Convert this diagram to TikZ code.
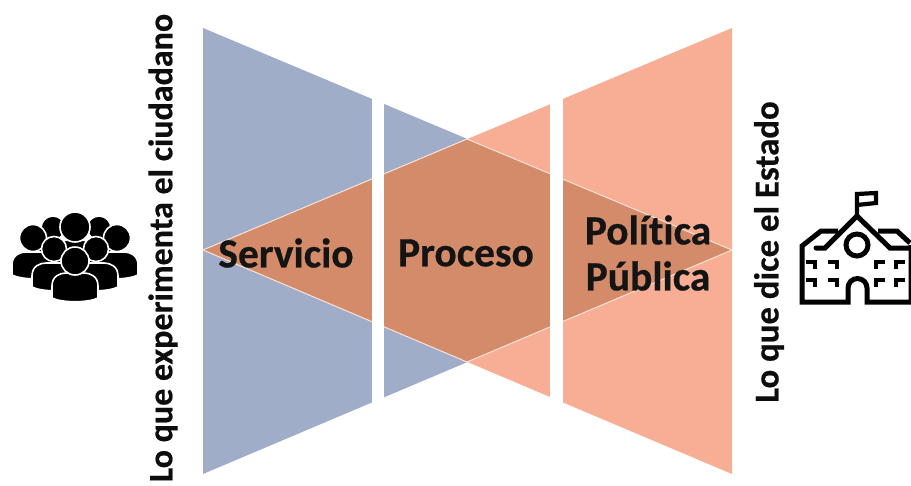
\documentclass[tikz,border=0pt]{standalone}
\usepackage{fontspec}
\setmainfont[Ligatures=NoCommon,BoldFeatures={FakeBold=0.5}]{Carlito}
\definecolor{blueT}{HTML}{A0ADC9}
\definecolor{orangeT}{HTML}{F7AE94}
\definecolor{overlapT}{HTML}{D38B6A}
\definecolor{edgeT}{HTML}{F6E3D8}
\tikzset{
  big/.style={font=\bfseries\fontsize{41.5}{46}\selectfont, text=black!92, align=center, inner sep=0pt},
  side/.style={font=\bfseries\fontsize{34}{38}\selectfont, text=black!95, rotate=90, inner sep=0pt},
  icon/.style={line width=5pt, draw=black, line join=miter},
  win/.style={line width=4.2pt, draw=black}
}
\newcommand{\onePerson}[6]{% cx, head cy, r, body top, body bottom, half width
  \fill[black, draw=white, line width=1.6pt] (#1-#6,#5-5) -- (#1-#6,#4+13)
    .. controls (#1-#6,#4+3) and (#1-#6+8,#4) .. (#1-#6+14,#4)
    -- (#1+#6-14,#4) .. controls (#1+#6-8,#4) and (#1+#6,#4+3) .. (#1+#6,#4+13)
    -- (#1+#6,#5-5) .. controls (#1+#6-10,#5) and (#1-#6+10,#5) .. (#1-#6,#5-5) -- cycle;
  \fill[black, draw=white, line width=1.6pt] (#1,#2) circle[radius=#3];
}
\begin{document}
\begin{tikzpicture}[x=1pt,y=-1pt]
\useasboundingbox (0,0) rectangle (911,485);
\clip (0,0) rectangle (911,485);
% triangles
\fill[blueT] (203,28) -- (732,250) -- (203,474) -- cycle;
\fill[orangeT] (732,28) -- (203,250) -- (732,474) -- cycle;
\fill[overlapT] (203,250) -- (467,139) -- (732,250) -- (467,362) -- cycle;
\draw[edgeT, line width=1pt] (203,250) -- (467,139) -- (732,250) -- (467,362) -- cycle;
% gaps
\fill[white] (372,20) rectangle (384,480);
\fill[white] (550,20) rectangle (563,480);
% labels
\node[big] (servicio) at (286,253) {Servicio};
\node[big] (proceso) at (466,253) {Proceso};
\node[big] (politica) at (648,253) {Política\\Pública};
\node[side, anchor=center] (ciudadano) at (163,248) {Lo que experimenta el ciudadano};
\node[side, anchor=center] (estado) at (769,252) {\fontsize{34.8}{38}\selectfont Lo que dice el Estado};
% people icon
\onePerson{53}{228}{12}{240}{275}{22}
\onePerson{99}{228}{12}{240}{275}{22}
\onePerson{75}{227}{15}{240}{270}{20}
\onePerson{33}{238}{13.5}{252}{280}{21}
\onePerson{117}{238}{13.5}{252}{280}{21}
\onePerson{54}{249}{12.5}{263}{292}{22}
\onePerson{96}{249}{12.5}{263}{292}{22}
\onePerson{75}{261}{14}{273}{303}{23}
% school icon
\draw[icon] (911,245) -- (911,302) -- (867,302) -- (867,288)
  arc[start angle=0,end angle=-180,radius=9.5] -- (848,302) -- (802,302) -- (802,246) -- (821,231) -- (838,231);
\draw[icon, line cap=round] (816,248) -- (825,248) -- (857,216) -- (890,248) -- (910,248);
\draw[icon] (878,231) -- (897,231) -- (910,243);
\draw[icon] (857,245) circle[radius=11];
\draw[icon, line width=4.2pt] (857,216) -- (857,194) -- (876,193) -- (876,203) -- (857,205);
\foreach \x/\y in {811/262, 833/262, 811/280, 833/280}{
  \draw[win] (\x-5,\y) -- (\x+4,\y) -- (\x+4,\y+7);
}
\foreach \x/\y in {880/262, 900/262, 880/280, 900/280}{
  \draw[win] (\x+5,\y) -- (\x-4,\y) -- (\x-4,\y+7);
}
\end{tikzpicture}
\end{document}
